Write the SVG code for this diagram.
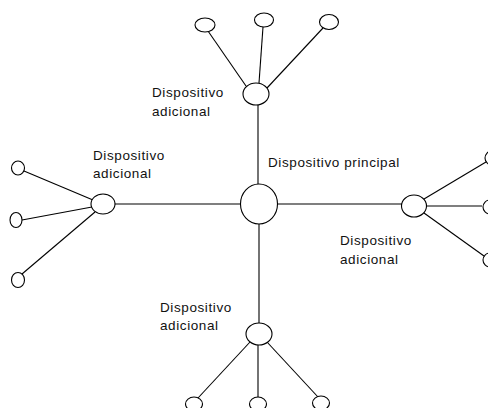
<svg xmlns="http://www.w3.org/2000/svg" width="488" height="408" viewBox="0 0 488 408">
<style>
.n{fill:#fff;stroke:#000;stroke-width:1.1}
.c line{stroke:#000;stroke-width:1.1}
text{font-family:"Liberation Sans",Arial,sans-serif;font-size:13.5px;fill:#111;letter-spacing:0.6px}
</style>
<rect width="488" height="408" fill="#fff"/>
<g class="c" id="connectors">
<line x1="258" y1="105" x2="258" y2="184"/>
<line x1="259" y1="224" x2="259" y2="323"/>
<line x1="115" y1="204" x2="240" y2="204"/>
<line x1="277" y1="204" x2="402" y2="204"/>
<line x1="208" y1="31" x2="246" y2="86"/>
<line x1="263" y1="27" x2="259" y2="83"/>
<line x1="323" y1="28" x2="267" y2="88"/>
<line x1="24" y1="171" x2="93" y2="200"/>
<line x1="22" y1="220" x2="92" y2="207"/>
<line x1="22" y1="274" x2="95" y2="212"/>
<line x1="424" y1="199" x2="486" y2="162"/>
<line x1="427" y1="206" x2="482" y2="206"/>
<line x1="424" y1="213" x2="484" y2="256"/>
<line x1="250" y1="342" x2="198" y2="398"/>
<line x1="258" y1="345" x2="258" y2="398"/>
<line x1="267" y1="342" x2="318" y2="397"/>
</g>
<g id="principal"><ellipse class="n" cx="259" cy="204" rx="18.5" ry="20"/><text x="268" y="167">Dispositivo principal</text></g>
<g id="top"><ellipse class="n" cx="256" cy="94" rx="13" ry="11"/><text x="152" y="97">Dispositivo</text><text x="152" y="116">adicional</text></g>
<g id="left"><ellipse class="n" cx="103" cy="204" rx="12" ry="10"/><text x="93" y="160">Dispositivo</text><text x="93" y="178">adicional</text></g>
<g id="right"><ellipse class="n" cx="414" cy="206" rx="12.5" ry="11"/><text x="340" y="245">Dispositivo</text><text x="340" y="264">adicional</text></g>
<g id="bottom"><ellipse class="n" cx="259" cy="334" rx="13" ry="11"/><text x="160" y="312">Dispositivo</text><text x="160" y="330">adicional</text></g>
<g id="top-1"><ellipse class="n" cx="205" cy="25" rx="10" ry="7"/></g>
<g id="top-2"><ellipse class="n" cx="264" cy="20" rx="9.5" ry="7"/></g>
<g id="top-3"><ellipse class="n" cx="329" cy="22" rx="9.5" ry="7.5"/></g>
<g id="left-1"><ellipse class="n" cx="18" cy="168" rx="6.5" ry="7"/></g>
<g id="left-2"><ellipse class="n" cx="16" cy="220" rx="6" ry="7.5"/></g>
<g id="left-3"><ellipse class="n" cx="18" cy="280" rx="6.5" ry="7.5"/></g>
<g id="right-1"><ellipse class="n" cx="492" cy="158" rx="7" ry="7"/></g>
<g id="right-2"><ellipse class="n" cx="490" cy="207" rx="7" ry="7"/></g>
<g id="right-3"><ellipse class="n" cx="490" cy="260" rx="7" ry="7"/></g>
<g id="bottom-1"><ellipse class="n" cx="194" cy="404" rx="8.5" ry="7"/></g>
<g id="bottom-2"><ellipse class="n" cx="258" cy="404" rx="8.5" ry="7"/></g>
<g id="bottom-3"><ellipse class="n" cx="321" cy="403" rx="8.5" ry="7"/></g>
</svg>
